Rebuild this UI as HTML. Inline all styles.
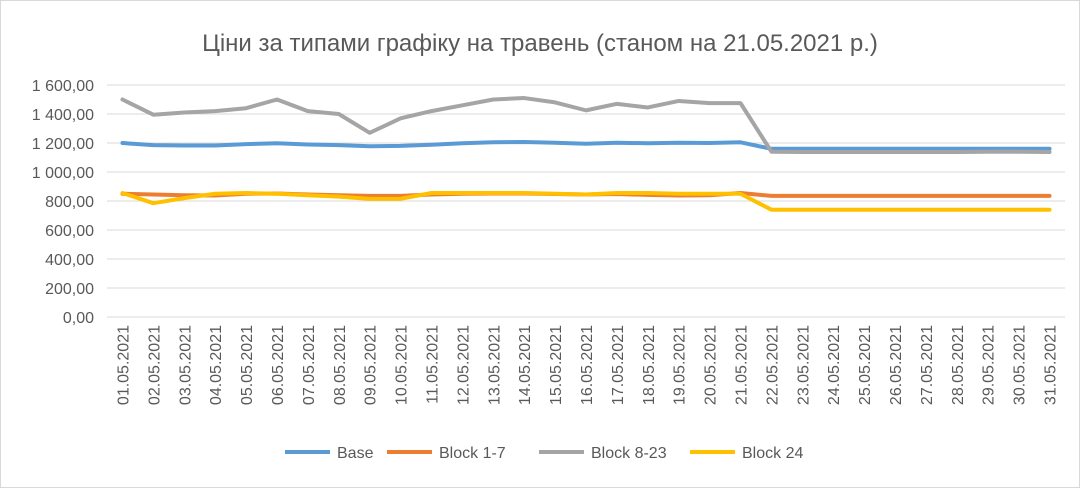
<!DOCTYPE html>
<html><head><meta charset="utf-8"><style>
body{margin:0;background:#fff;font-family:"Liberation Sans",sans-serif}
#wrap{width:1078px;height:486px;border:1px solid #d9d9d9;position:relative}
</style></head><body>
<div id="wrap">
<svg id="chart" width="1078" height="486"></svg>
</div>
<script>
const categories=[];for(let d=1;d<=31;d++)categories.push((d<10?'0':'')+d+'.05.2021');
const baseVals=[1200,1185,1183,1183,1192,1198,1190,1185,1178,1180,1188,1198,1205,1207,1202,1195,1202,1198,1202,1200,1205,1160,1160,1160,1160,1160,1160,1160,1160,1160,1160];
const block17Vals=[850,845,840,838,850,852,845,840,835,835,845,850,852,852,848,845,848,842,838,840,855,835,835,835,835,835,835,835,835,835,835];
const block823Vals=[1500,1395,1410,1420,1440,1500,1420,1400,1270,1370,1420,1460,1500,1510,1480,1425,1470,1445,1490,1475,1475,1140,1138,1138,1138,1138,1138,1138,1140,1140,1138];
const block24Vals=[855,785,820,850,855,850,840,830,815,815,855,855,855,855,850,845,855,855,850,850,850,740,740,740,740,740,740,740,740,740,740];
const yTicks=[0,200,400,600,800,1000,1200,1400,1600];
const yTickLabels=['0,00','200,00','400,00','600,00','800,00','1 000,00','1 200,00','1 400,00','1 600,00'];
const NS='http://www.w3.org/2000/svg';
const svg=document.getElementById('chart');
const x0=106,x1=1064,y0=316,yTop=84;
function xs(i){return x0+(x1-x0)/categories.length*(i+0.5);}
function ys(v){return y0-(y0-yTop)*v/1600;}
function mk(t,a){const e=document.createElementNS(NS,t);for(const k in a)e.setAttribute(k,a[k]);svg.appendChild(e);return e;}
const title=mk('text',{x:539,y:50,'text-anchor':'middle','font-size':24,fill:'#595959'});


title.textContent='Ціни за типами графіку на травень (станом на 21.05.2021 р.)';
yTicks.forEach((v,i)=>{
 const g=mk('line',{x1:x0,x2:x1,y1:ys(v),y2:ys(v),stroke:'#d9d9d9','stroke-width':1});
 
 
 const t=mk('text',{x:93,y:ys(v)+6,'text-anchor':'end','font-size':16,fill:'#595959'});
 
 
 t.textContent=yTickLabels[i];
});
categories.forEach((c,i)=>{
 const t=mk('text',{transform:`translate(${xs(i)+6},${y0+8}) rotate(-90)`,'text-anchor':'end','font-size':16,fill:'#595959'});
 
 
 t.textContent=c;
});
const series=[['Base',baseVals,'#5b9bd5'],['Block 1-7',block17Vals,'#ed7d31'],['Block 8-23',block823Vals,'#a5a5a5'],['Block 24',block24Vals,'#ffc000']];
series.forEach(s=>{
 const p=mk('polyline',{points:s[1].map((v,i)=>xs(i)+','+ys(v)).join(' '),fill:'none',stroke:s[2],'stroke-width':4,'stroke-linejoin':'round','stroke-linecap':'round'});
 
 
});
const lx=[284,386,538,689];
series.forEach((s,i)=>{
 const l=mk('line',{x1:lx[i],x2:lx[i]+45,y1:451,y2:451,stroke:s[2],'stroke-width':4});
 
 
 const t=mk('text',{x:lx[i]+52,y:457,'font-size':16,fill:'#595959'});
 
 
 t.textContent=s[0];
});
</script>
</body></html>
